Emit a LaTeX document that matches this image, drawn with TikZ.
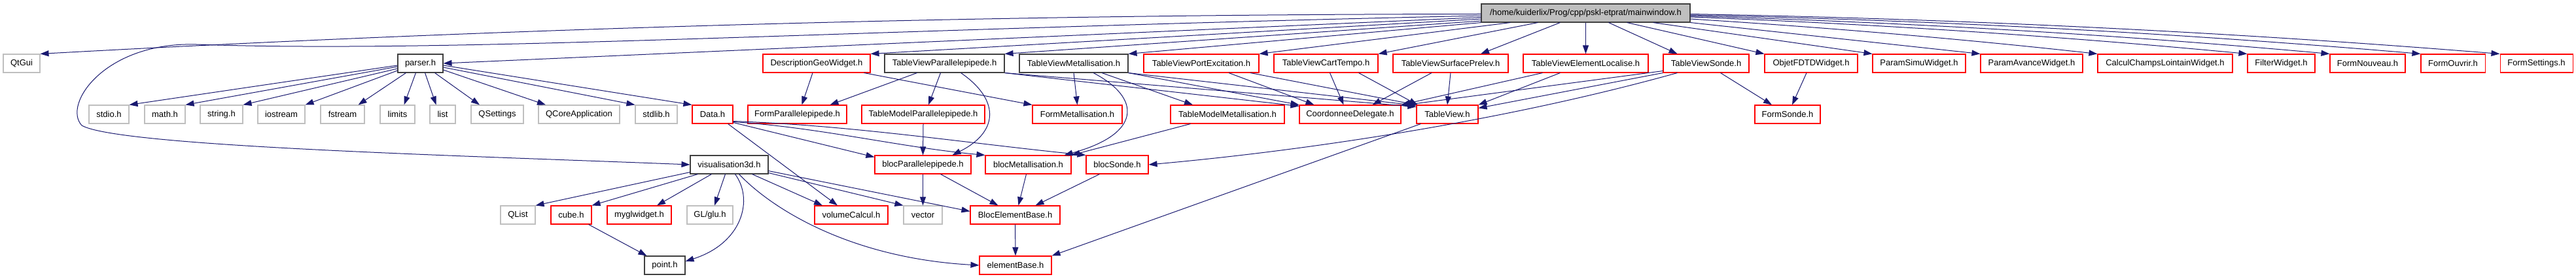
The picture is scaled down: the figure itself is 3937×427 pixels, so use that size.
\documentclass[tikz,border=0pt]{standalone}
\usepackage{fontspec}
\setmainfont{Liberation Sans}
\usetikzlibrary{arrows.meta}
\definecolor{edgecol}{HTML}{191970}
\definecolor{redb}{HTML}{FF0000}
\definecolor{grayb}{HTML}{BFBFBF}
\definecolor{blackb}{HTML}{404040}
\definecolor{topfill}{HTML}{BFBFBF}
\begin{document}
\begin{tikzpicture}[x=1pt,y=1pt,
 box/.style={rectangle, inner sep=0pt, minimum height=28pt, line width=1.1pt, font=\fontsize{13}{15}\selectfont, text=black},
 rbox/.style={box, draw=redb},
 gbox/.style={box, draw=grayb},
 kbox/.style={box, draw=blackb},
 tbox/.style={box, draw=blackb, fill=topfill},
 dep/.style={draw=edgecol, line width=1.0pt, -{Triangle[length=13pt,width=9pt]}}]
\fill[white] (0,0) rectangle (3937,-427);
\useasboundingbox (0,0) rectangle (3937,-427);
% top
\node[tbox, minimum width=319pt] (mw) at (2423.5,-20) {/home/kuiderlix/Prog/cpp/pskl-etprat/mainwindow.h};
% row 1
\node[gbox, minimum width=56pt] (QtGui) at (33,-97) {QtGui};
\node[kbox, minimum width=69pt] (parser) at (642.5,-97) {parser.h};
\node[rbox, minimum width=164pt] (DGW) at (1248,-97) {DescriptionGeoWidget.h};
\node[kbox, minimum width=183pt] (TVPar) at (1443.5,-97) {TableViewParallelepipede.h};
\node[kbox, minimum width=166pt] (TVMet) at (1641,-97) {TableViewMetallisation.h};
\node[rbox, minimum width=176pt] (TVPort) at (1836,-97) {TableViewPortExcitation.h};
\node[rbox, minimum width=159pt] (TVCart) at (2026.5,-97) {TableViewCartTempo.h};
\node[rbox, minimum width=176pt] (TVSurf) at (2217,-97) {TableViewSurfacePrelev.h};
\node[rbox, minimum width=191pt] (TVElem) at (2423.5,-97) {TableViewElementLocalise.h};
\node[rbox, minimum width=131pt] (TVSonde) at (2607.5,-97) {TableViewSonde.h};
\node[rbox, minimum width=142pt] (Objet) at (2768,-97) {ObjetFDTDWidget.h};
\node[rbox, minimum width=142pt] (PSimu) at (2933,-97) {ParamSimuWidget.h};
\node[rbox, minimum width=156pt] (PAvance) at (3105,-97) {ParamAvanceWidget.h};
\node[rbox, minimum width=206pt] (Calcul) at (3309,-97) {CalculChampsLointainWidget.h};
\node[rbox, minimum width=103pt] (Filter) at (3486.5,-97) {FilterWidget.h};
\node[rbox, minimum width=115pt] (Nouveau) at (3618.5,-97) {FormNouveau.h};
\node[rbox, minimum width=98pt] (Ouvrir) at (3749,-97) {FormOuvrir.h};
\node[rbox, minimum width=111pt] (Settings) at (3876.5,-97) {FormSettings.h};
% row 2
\node[gbox, minimum width=61pt] (stdio) at (166.5,-175) {stdio.h};
\node[gbox, minimum width=62pt] (math) at (252,-175) {math.h};
\node[gbox, minimum width=65pt] (string) at (338.5,-175) {string.h};
\node[gbox, minimum width=72pt] (iostream) at (430,-175) {iostream};
\node[gbox, minimum width=67pt] (fstream) at (523.5,-175) {fstream};
\node[gbox, minimum width=53pt] (limits) at (607.5,-175) {limits};
\node[gbox, minimum width=39pt] (list) at (676.5,-175) {list};
\node[gbox, minimum width=80pt] (QSettings) at (760,-175) {QSettings};
\node[gbox, minimum width=124pt] (QCore) at (885,-175) {QCoreApplication};
\node[gbox, minimum width=64pt] (stdlib) at (1003,-175) {stdlib.h};
\node[rbox, minimum width=62pt] (Data) at (1089,-175) {Data.h};
\node[rbox, minimum width=151pt] (FP) at (1218.5,-175) {FormParallelepipede.h};
\node[rbox, minimum width=188pt] (TMP) at (1411,-175) {TableModelParallelepipede.h};
\node[rbox, minimum width=137pt] (FM) at (1646.5,-175) {FormMetallisation.h};
\node[rbox, minimum width=174pt] (TMM) at (1876,-175) {TableModelMetallisation.h};
\node[rbox, minimum width=155pt] (CD) at (2063.5,-175) {CoordonneeDelegate.h};
\node[rbox, minimum width=94pt] (TV) at (2212,-175) {TableView.h};
\node[rbox, minimum width=100pt] (FS) at (2732,-175) {FormSonde.h};
% row 3
\node[kbox, minimum width=119pt] (VIS) at (1114.5,-252) {visualisation3d.h};
\node[rbox, minimum width=147pt] (BP) at (1410.5,-252) {blocParallelepipede.h};
\node[rbox, minimum width=131pt] (BM) at (1571.5,-252) {blocMetallisation.h};
\node[rbox, minimum width=95pt] (BS) at (1707.5,-252) {blocSonde.h};
% row 4
\node[gbox, minimum width=53pt] (QList) at (791.5,-329) {QList};
\node[rbox, minimum width=62pt] (cube) at (873,-329) {cube.h};
\node[rbox, minimum width=98pt] (mygl) at (977,-329) {myglwidget.h};
\node[gbox, minimum width=70pt] (GLglu) at (1085,-329) {GL/glu.h};
\node[rbox, minimum width=112pt] (VC) at (1301,-329) {volumeCalcul.h};
\node[gbox, minimum width=59pt] (vector) at (1410.5,-329) {vector};
\node[rbox, minimum width=137pt] (BEB) at (1551.5,-329) {BlocElementBase.h};
% row 5
\node[kbox, minimum width=62pt] (point) at (1016,-406) {point.h};
\node[rbox, minimum width=110pt] (EB) at (1552,-406) {elementBase.h};

% edges from mainwindow
\draw[dep] ([yshift=-1.5pt]mw.west) .. controls +(-734,-0.5) and +(734,40.5) .. (QtGui.north east);
\draw[dep] ([yshift=-4pt]mw.west) .. controls (1300,-45) and (700,-82) .. (300,-68)
  .. controls (160,-64) and (95,-160) .. (125,-192)
  .. controls (180,-224) and (700,-238) .. (VIS.west);
\draw[dep] ([yshift=-6.5pt]mw.west) -- (parser.east);
\draw[dep] ([yshift=-9pt]mw.west) -- (DGW.north east);
\draw[dep] ([yshift=-12pt]mw.west) -- (TVPar.north east);
\draw[dep] (mw.south west) -- (TVMet.north east);
\draw[dep] ([xshift=45pt]mw.south west) -- (TVPort.north east);
\draw[dep] ([xshift=87pt]mw.south west) -- (TVCart.north east);
\draw[dep] ([xshift=121pt]mw.south west) -- ([xshift=46pt]TVSurf.north);
\draw[dep] (mw.south) -- (TVElem.north);
\draw[dep] ([xshift=35pt]mw.south) -- ([xshift=-44pt]TVSonde.north);
\draw[dep] ([xshift=-97pt]mw.south east) -- (Objet.north west);
\draw[dep] ([xshift=-57pt]mw.south east) -- (PSimu.north west);
\draw[dep] (mw.south east) -- (PAvance.north west);
\draw[dep] ([yshift=-9pt]mw.east) .. controls +(208,-13) and +(-208,23) .. (Calcul.north west);
\draw[dep] ([yshift=-6pt]mw.east) .. controls +(284,-11) and +(-284,27) .. (Filter.north west);
\draw[dep] ([yshift=-4.5pt]mw.east) .. controls +(326,-9.6) and +(-326,29.6) .. (Nouveau.north west);
\draw[dep] ([yshift=-3pt]mw.east) .. controls +(372,-8) and +(-372,32) .. (Ouvrir.north west);
\draw[dep] ([yshift=-1.5pt]mw.east) .. controls +(413,-7.5) and +(-413,33.5) .. (Settings.north west);

% parser
\draw[dep] ([yshift=-3pt]parser.west) -- (stdio.north east);
\draw[dep] ([yshift=-5pt]parser.west) -- (math.north east);
\draw[dep] ([yshift=-8pt]parser.west) -- (string.north east);
\draw[dep] ([yshift=-11pt]parser.west) -- (iostream.north east);
\draw[dep] ([xshift=13pt]parser.south west) -- ([xshift=-10pt]fstream.north east);
\draw[dep] ([xshift=28pt]parser.south west) -- ([xshift=10pt]limits.north);
\draw[dep] ([xshift=-28pt]parser.south east) -- ([xshift=-10pt]list.north);
\draw[dep] ([xshift=-13pt]parser.south east) -- ([xshift=-27pt]QSettings.north);
\draw[dep] ([yshift=-10pt]parser.east) -- ([xshift=-51pt]QCore.north);
\draw[dep] ([yshift=-6pt]parser.east) -- (stdlib.north west);
\draw[dep] ([yshift=-3pt]parser.east) -- (Data.north west);

% DescriptionGeoWidget
\draw[dep] ([xshift=-6pt]DGW.south) -- ([xshift=7pt]FP.north);
\draw[dep] ([xshift=-10pt]DGW.south east) -- (FM.north west);

% TableViewParallelepipede
\draw[dep] ([xshift=-42pt]TVPar.south) -- ([xshift=50pt]FP.north);
\draw[dep] ([xshift=-6pt]TVPar.south) -- ([xshift=8pt]TMP.north);
\draw[dep] ([xshift=25pt]TVPar.south) .. controls (1525,-150) and (1530,-200) .. ([xshift=45pt]BP.north);
\draw[dep] (TVPar.south east) -- ([yshift=-2pt]CD.north west);
\draw[dep] (TVPar.south east) -- ([yshift=-3pt]TV.north west);

% TableViewMetallisation
\draw[dep] (TVMet.south) -- (FM.north);
\draw[dep] ([xshift=43pt]TVMet.south) -- ([xshift=-53pt]TMM.north);
\draw[dep] ([xshift=30pt]TVMet.south) .. controls (1745,-150) and (1745,-205) .. ([xshift=55pt]BM.north);
\draw[dep] (TVMet.south east) -- (CD.north west);
\draw[dep] (TVMet.south east) -- ([yshift=-1pt]TV.north west);

% TableViewPortExcitation
\draw[dep] ([xshift=42pt]TVPort.south) -- ([xshift=-55pt]CD.north);
\draw[dep] ([xshift=75pt]TVPort.south) -- (TV.north west);

% TableViewCartTempo
\draw[dep] ([xshift=6pt]TVCart.south) -- ([xshift=-10pt]CD.north);
\draw[dep] ([xshift=50pt]TVCart.south) -- ([xshift=2pt]TV.north west);

% TableViewSurfacePrelev
\draw[dep] ([xshift=-29pt]TVSurf.south) -- ([xshift=34pt]CD.north);
\draw[dep] (TVSurf.south) -- (TV.north);

% TableViewElementLocalise
\draw[dep] ([xshift=30pt]TVElem.south west) -- (CD.north east);
\draw[dep] ([xshift=57pt]TVElem.south west) -- (TV.north east);

% TableViewSonde
\draw[dep] ([yshift=3pt]TVSonde.south west) -- ([yshift=-1pt]CD.north east);
\draw[dep] (TVSonde.south west) -- ([yshift=-5pt]TV.north east);
\draw[dep] ([xshift=22pt]TVSonde.south west) .. controls (2300,-185) and (2000,-230) .. (BS.east);
\draw[dep] ([xshift=22pt]TVSonde.south) -- ([xshift=-24pt]FS.north);

% ObjetFDTDWidget
\draw[dep] ([xshift=-7pt]Objet.south) -- ([xshift=7pt]FS.north);

% TableView
\draw[dep] ([xshift=7pt]TV.south west) -- (EB.north east);

% Data
\draw[dep] ([yshift=2pt]Data.south east) -- ([yshift=-3pt]BP.north west);
\draw[dep] ([yshift=3pt]Data.south east) .. controls +(130,-8) and +(-130,12) .. (BM.north west);
\draw[dep] ([yshift=4pt]Data.south east) .. controls +(180,-6) and +(-180,18) .. (BS.north west);
\draw[dep] ([xshift=-8pt]Data.south east) -- ([xshift=-21pt]VC.north);

% TableModel*
\draw[dep] (TMP.south) -- (BP.north);
\draw[dep] ([xshift=31pt]TMM.south west) -- (BM.north east);

% visualisation3d
\draw[dep] ([yshift=3pt]VIS.south west) -- (QList.north east);
\draw[dep] ([xshift=12pt]VIS.south west) -- (cube.north east);
\draw[dep] ([xshift=33pt]VIS.south west) -- ([xshift=27pt]mygl.north);
\draw[dep] ([xshift=-6pt]VIS.south) -- ([xshift=7pt]GLglu.north);
\draw[dep] ([xshift=9pt]VIS.south) .. controls (1152,-305) and (1135,-372) .. ([yshift=6pt]point.east);
\draw[dep] ([xshift=15pt]VIS.south) .. controls (1180,-320) and (1300,-395) .. (EB.west);
\draw[dep] ([xshift=35pt]VIS.south) -- ([xshift=-44pt]VC.north);
\draw[dep] ([yshift=2pt]VIS.south east) -- (vector.north west);
\draw[dep] ([yshift=5pt]VIS.south east) -- ([yshift=-9pt]BEB.north west);

% blocs
\draw[dep] (BP.south) -- (vector.north);
\draw[dep] ([xshift=27pt]BP.south) -- ([xshift=-26pt]BEB.north);
\draw[dep] ([xshift=-3pt]BM.south) -- ([xshift=5pt]BEB.north);
\draw[dep] ([xshift=-27pt]BS.south) -- ([xshift=31pt]BEB.north);
\draw[dep] (BEB.south) -- (EB.north);
\draw[dep] ([xshift=-5pt]cube.south east) -- ([xshift=4pt]point.north west);
\end{tikzpicture}
\end{document}
